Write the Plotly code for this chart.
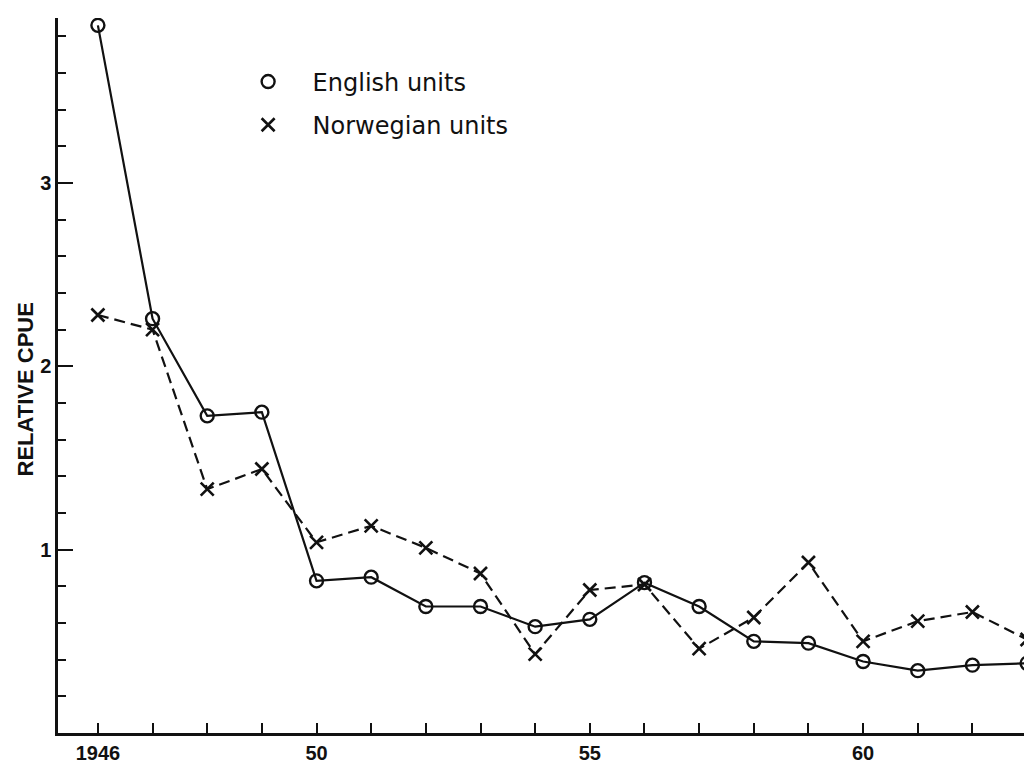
import plotly.graph_objects as go

years = list(range(1946, 1964))
english = [3.86, 2.26, 1.73, 1.75, 0.83, 0.85, 0.69, 0.69, 0.58, 0.62,
           0.82, 0.69, 0.50, 0.49, 0.39, 0.34, 0.37, 0.38]
norwegian = [2.28, 2.20, 1.33, 1.44, 1.04, 1.13, 1.01, 0.87, 0.43, 0.78,
             0.81, 0.46, 0.63, 0.93, 0.50, 0.61, 0.66, 0.51]
x_labels = {1946: "1946", 1950: "50", 1955: "55", 1960: "60"}
y_ticks = [1, 2, 3]

ink = "#111111"
tick_font = dict(family="Liberation Sans", size=20, color=ink, weight="bold")
circle = dict(symbol="circle-open", size=13, color=ink, line=dict(width=2.4))
cross = dict(symbol="x-thin-open", size=13, color=ink, line=dict(width=2.6, color=ink))

fig = go.Figure()
fig.add_trace(go.Scatter(
    x=years, y=english, mode="lines+markers", showlegend=False,
    line=dict(color=ink, width=2.2), marker=circle,
))
fig.add_trace(go.Scatter(
    x=years, y=norwegian, mode="lines+markers", showlegend=False,
    line=dict(color=ink, width=2.2, dash="11px,6px"), marker=cross,
))
# legend entries (symbols only, as in the original)
fig.add_trace(go.Scatter(x=[None], y=[None], mode="markers", name="English units",
                         legendgroup="e", marker=circle))
fig.add_trace(go.Scatter(x=[None], y=[None], mode="markers", name="Norwegian units",
                         legendgroup="n", marker=cross))

fig.update_xaxes(
    range=[1945.27, 1963.2], showgrid=False, zeroline=False,
    showline=True, linecolor=ink, linewidth=2.5,
    tickvals=years, ticktext=[x_labels.get(y, "") for y in years],
    ticks="inside", ticklen=10, tickwidth=2, tickcolor=ink, tickfont=tick_font,
)
fig.update_yaxes(
    range=[0, 3.9], showgrid=False, zeroline=False,
    showline=True, linecolor=ink, linewidth=2.5,
    tickvals=y_ticks, ticks="inside", ticklen=15, tickwidth=2, tickcolor=ink,
    tickfont=tick_font,
    minor=dict(dtick=0.2, tick0=0, ticks="inside", ticklen=8, tickwidth=2, tickcolor=ink),
)
fig.add_annotation(
    text="RELATIVE CPUE", textangle=-90, xref="paper", yref="paper",
    x=-0.033, y=0.48, xanchor="center", yanchor="middle", showarrow=False,
    font=dict(family="Liberation Sans", size=22, color=ink, weight="bold"),
)
fig.update_layout(
    width=1032, height=764, plot_bgcolor="white", paper_bgcolor="white",
    margin=dict(l=50, r=2, t=10, b=39),
    legend=dict(x=0.169, y=0.942, xanchor="left", yanchor="top", itemwidth=79,
                font=dict(family="DejaVu Sans", size=24, color=ink),
                tracegroupgap=9, bgcolor="rgba(0,0,0,0)"),
)
fig.write_html("out.html")
